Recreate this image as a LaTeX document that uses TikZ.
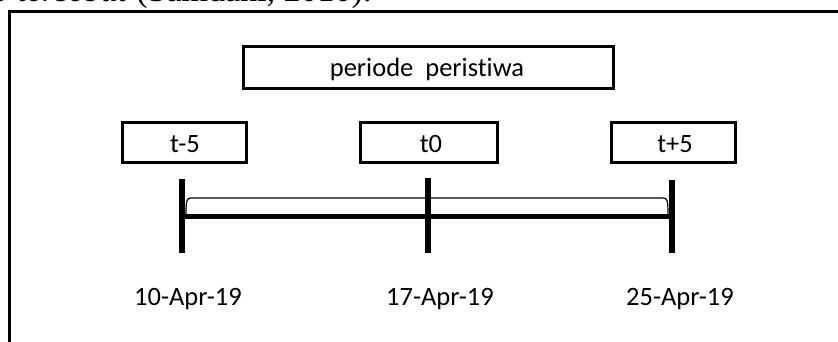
\documentclass[tikz,border=0pt]{standalone}
\usepackage{fontspec}
\setmainfont[RawFeature={-liga}]{Carlito}
\newfontfamily\serifref{Liberation Serif}
\begin{document}
\begin{tikzpicture}[x=1pt,y=-1pt,
  lbl/.style={font=\fontsize{26.5}{30}\selectfont, inner sep=0pt},
  tbox/.style={draw, line width=3pt, inner sep=0pt, anchor=center},
  tick/.style={line width=5.5pt},
  axis/.style={line width=5pt},
  frame/.style={line width=3pt}]
\useasboundingbox (0,0) rectangle (838,342);
\begin{scope}
\clip (0,0) rectangle (838,342);
% clipped caption text at top
\node[anchor=base west, inner sep=0pt, font=\serifref\fontsize{34}{36}\selectfont] (cap) at (-8,2) {\textit{o tersebut} (Samdani, 2010).};
% outer frame (only top and left visible)
\coordinate (ftl) at (9,12);
\coordinate (ftr) at (850,12);
\coordinate (fbl) at (9,350);
\draw[frame] (ftr) -- (ftl) -- (fbl);
\end{scope}
% boxes
\node[tbox, minimum width=370pt, minimum height=42pt] (per) at (428,68) {};
\node[lbl, anchor=base] (pert) at (427,77) {periode\ \ peristiwa};
\node[tbox, minimum width=124pt, minimum height=40pt] (bm5) at (184,143) {};
\node[lbl, anchor=base] (tm5) at (185,153) {t-5};
\node[tbox, minimum width=137pt, minimum height=40pt] (b0) at (428.5,143) {};
\node[lbl, anchor=base] (t0) at (431,153) {t0};
\node[tbox, minimum width=124pt, minimum height=40pt] (bp5) at (673,143) {};
\node[lbl, anchor=base] (tp5) at (675,153) {t+5};
% ticks
\coordinate (l1) at (182,179);
\coordinate (l2) at (182,253);
\coordinate (m1) at (428,178);
\coordinate (m2) at (428,253);
\coordinate (r1) at (672,180);
\coordinate (r2) at (672,253);
\draw[tick] (l1) -- (l2);
\draw[tick] (m1) -- (m2);
\draw[tick] (r1) -- (r2);
% axis
\coordinate (a1) at (182,216);
\coordinate (a2) at (672,216);
\draw[axis] (a1) -- (a2);
% bracket
\coordinate (b1) at (186,214);
\coordinate (b2) at (668,214);
\draw[line width=1.2pt] (b1) .. controls (186,200) and (187,198) .. (191,198) -- (663,198) .. controls (667,198) and (668,200) .. (b2);
% dates
\node[lbl, anchor=base] (d1) at (188,305) {10-Apr-19};
\node[lbl, anchor=base] (d2) at (440,305) {17-Apr-19};
\node[lbl, anchor=base] (d3) at (680,305) {25-Apr-19};
\end{tikzpicture}
\end{document}
